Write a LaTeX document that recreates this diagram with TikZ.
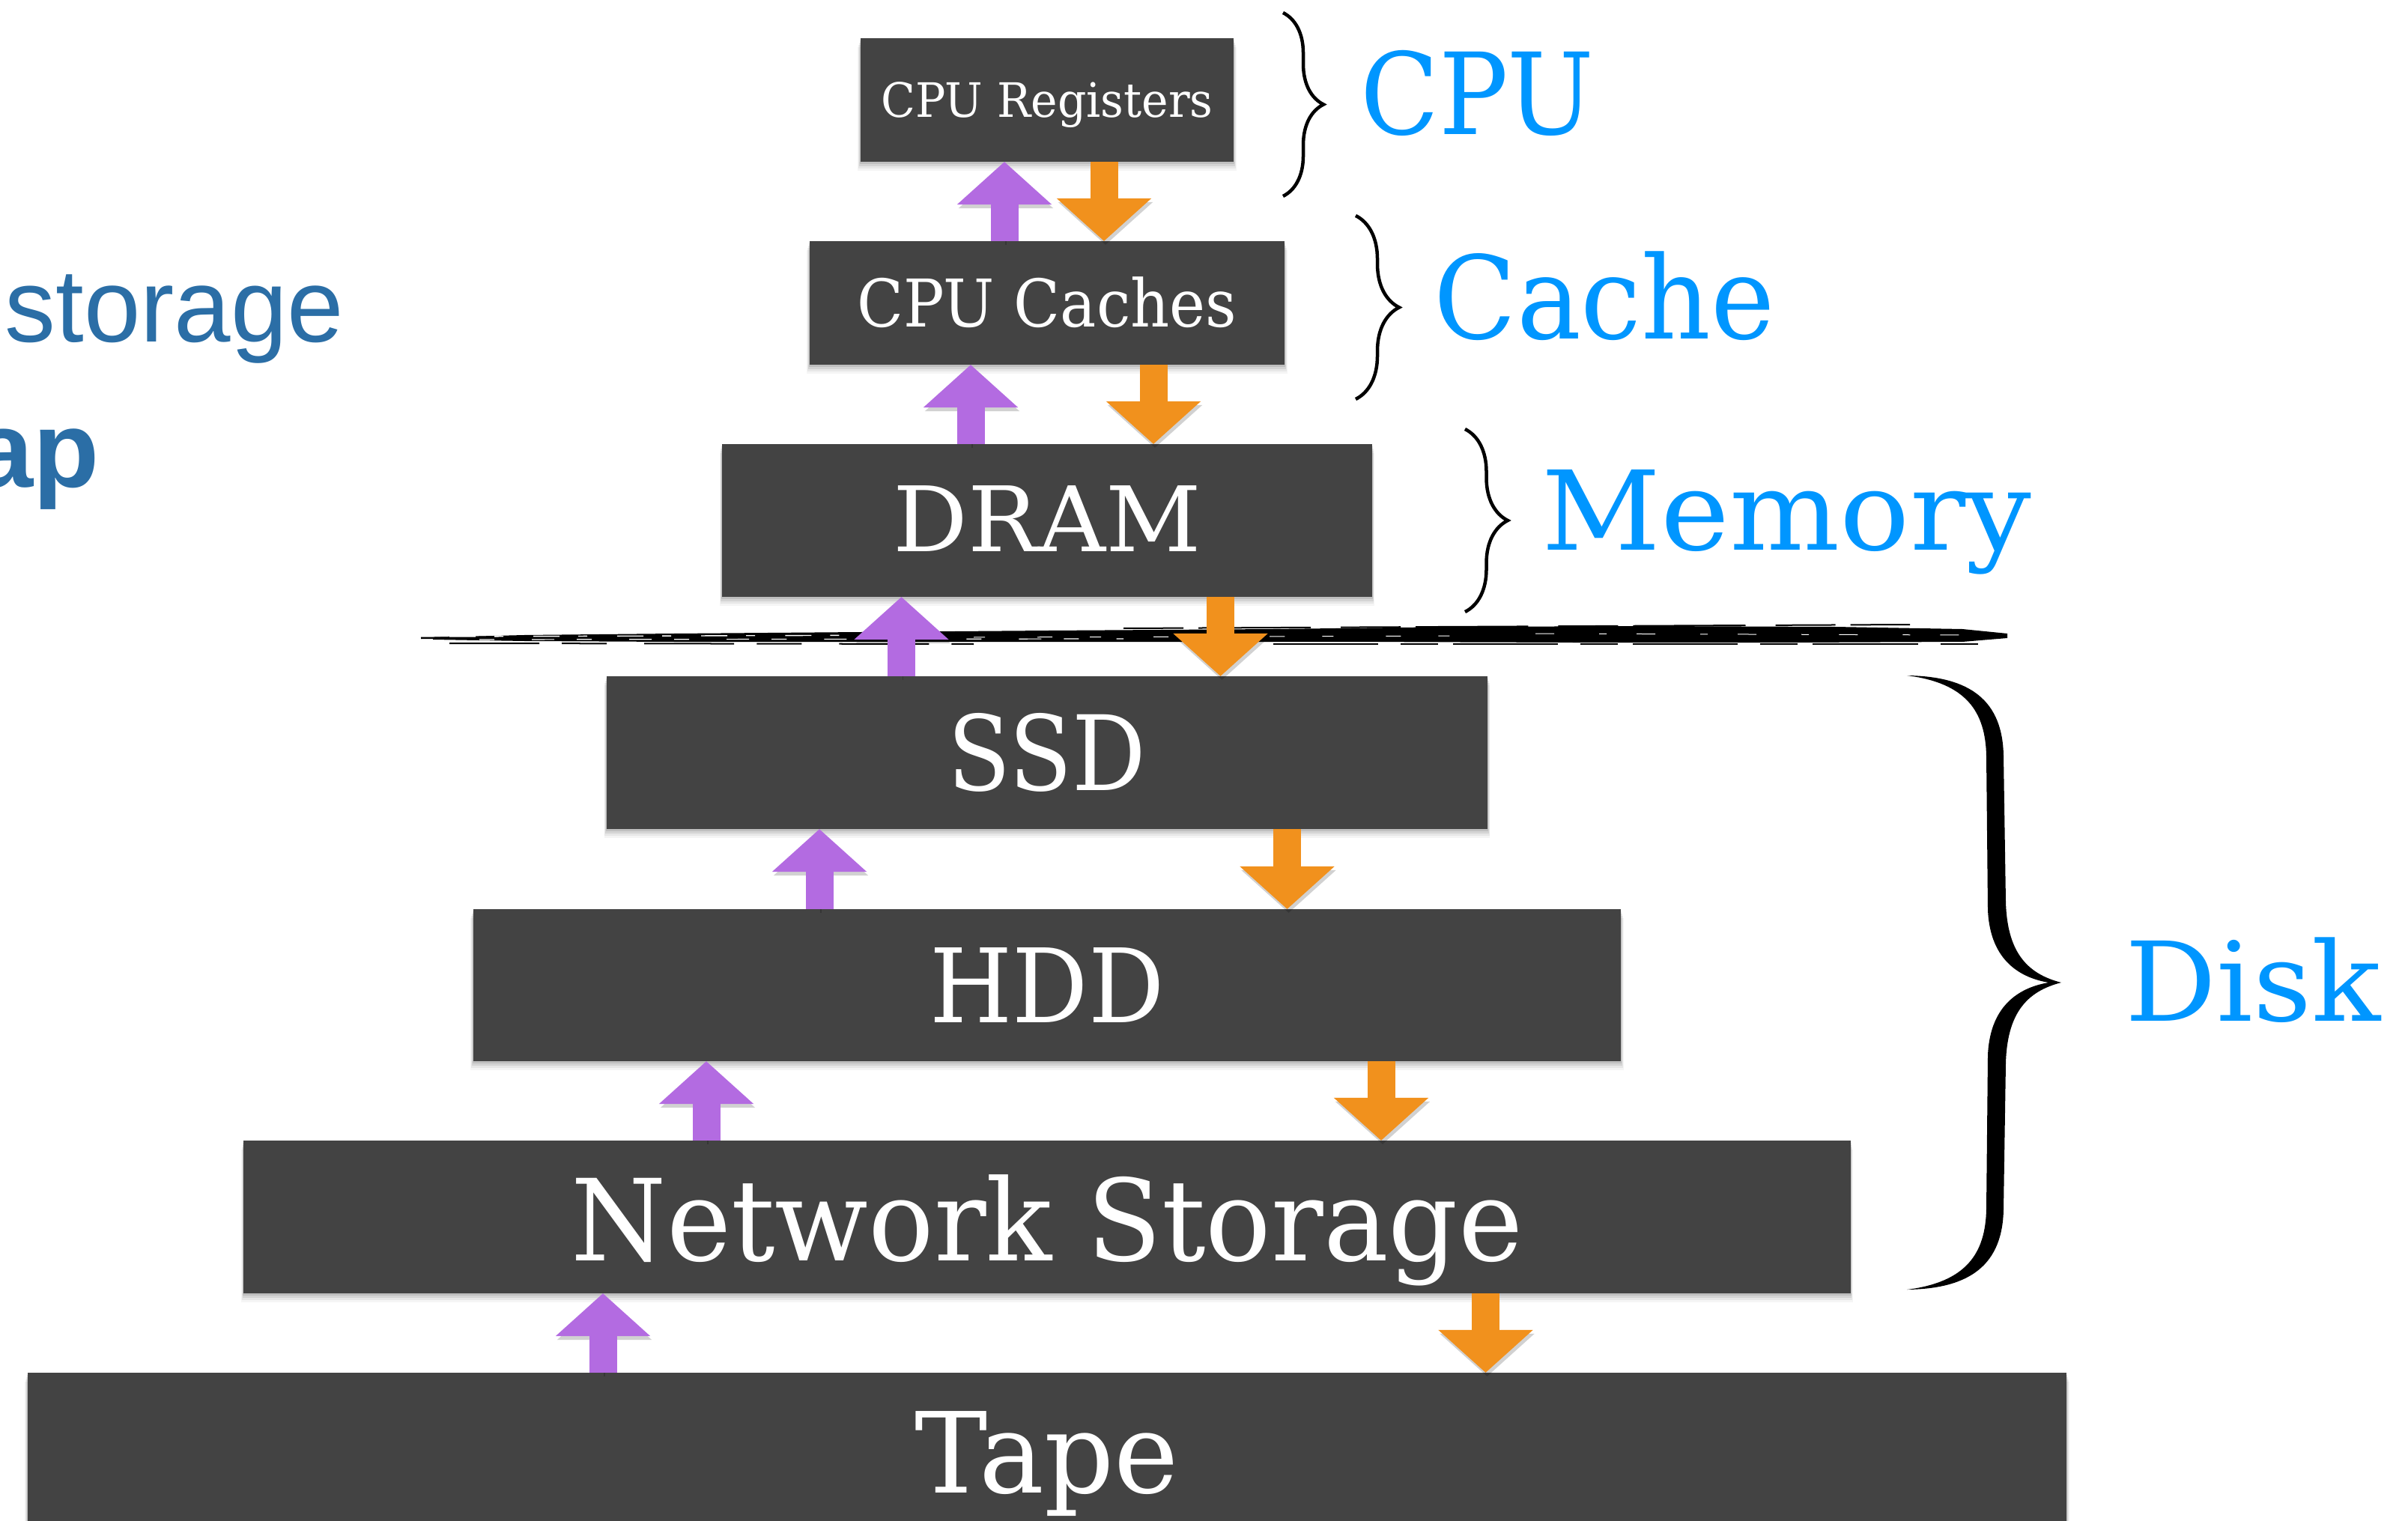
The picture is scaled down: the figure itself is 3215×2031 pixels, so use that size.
\documentclass[tikz,border=0pt]{standalone}
\usepackage{fontspec}
\usepackage{graphicx}
\setmainfont{DejaVu Serif}
\newfontfamily\helv{Liberation Sans}
\usetikzlibrary{arrows.meta,calc,decorations.pathreplacing}
\definecolor{boxgray}{HTML}{434343}
\definecolor{upcol}{HTML}{B36BE1}
\definecolor{downcol}{HTML}{F1911D}
\definecolor{lblblue}{HTML}{0096FF}
\definecolor{sideblue}{HTML}{2B6EA6}
\pgfdeclarelayer{bg}
\pgfsetlayers{bg,main}
\newcommand\fitw[3]{\resizebox{#1cm}{\height}{\fontsize{#2}{#2}\selectfont #3}}
\begin{document}
\begin{tikzpicture}[x=0.01cm, y=-0.01cm,
  box/.style={fill=boxgray, inner sep=0pt, outer sep=0pt},
  boxtxt/.style={text=white, inner sep=0pt, anchor=base},
  lbl/.style={text=lblblue, inner sep=0pt, anchor=base west},
  arrshadow/.style={preaction={draw=black, opacity=0.18, transform canvas={xshift=0.02cm, yshift=-0.05cm}}},
  uparr/.style={arrshadow, draw=upcol, line width=0.37cm, -{Triangle[width=1.23cm,length=0.57cm]}},
  downarr/.style={arrshadow, draw=downcol, line width=0.37cm, -{Triangle[width=1.23cm,length=0.57cm]}},
  smallbrace/.style={draw=black, line width=0.045cm, decorate}
]
\useasboundingbox (0,0) rectangle (3215,2031);
\clip (0,0) rectangle (3215,2031);

% boxes
\node[box, minimum width=4.98cm, minimum height=1.65cm] (reg) at (1398,133.5) {};
\node[box, minimum width=6.34cm, minimum height=1.65cm] (cache) at (1398,404.5) {};
\node[box, minimum width=8.67cm, minimum height=2.04cm] (dram) at (1398,695) {};
\node[box, minimum width=11.75cm, minimum height=2.04cm] (ssd) at (1398,1005) {};
\node[box, minimum width=15.31cm, minimum height=2.03cm] (hdd) at (1398,1315.5) {};
\node[box, minimum width=21.44cm, minimum height=2.04cm] (net) at (1398,1625) {};
\node[box, minimum width=27.21cm, minimum height=2.04cm] (tape) at (1398,1935) {};

% soft shadows under boxes
\begin{pgfonlayer}{bg}
\foreach \n in {reg,cache,dram,ssd,hdd,net,tape}{
  \foreach \d/\o in {3/0.10,6/0.08,9/0.06,12/0.04}{
    \fill[black, opacity=\o] ($(\n.north west)+(-\d*0.3,\d)$) rectangle ($(\n.south east)+(\d*0.3,\d)$);
  }
}
\end{pgfonlayer}

% box texts
\node[boxtxt] (tReg) at ($(reg.center)+(0,23)$) {\fitw{4.43}{18}{CPU Registers}};
\node[boxtxt] (tCache) at ($(cache.center)+(0,32)$) {\fitw{5.06}{25}{CPU Caches}};
\node[boxtxt] (tDram) at ($(dram.center)+(0,42)$) {\fitw{4.11}{34.3}{DRAM}};
\node[boxtxt] (tSsd) at ($(ssd.center)+(0,50)$) {\fitw{2.65}{39.5}{SSD}};
\node[boxtxt] (tHdd) at ($(hdd.center)+(0,49.5)$) {\fitw{3.13}{39}{HDD}};
\node[boxtxt] (tNet) at ($(net.center)+(0,58)$) {\fitw{12.70}{43}{Network Storage}};
\node[boxtxt] (tTape) at ($(tape.center)+(0,58)$) {\fitw{3.52}{42.5}{Tape}};

% separator brush stroke
\fill[black] (578,851) -- (700,848) -- (900,846) -- (1150,844) -- (1400,842) -- (1700,840)
  -- (1950,837) -- (2200,836) -- (2450,837) -- (2620,840) -- (2680,846)
  -- (2680,852) -- (2620,857) -- (2400,858) -- (2100,858) -- (1800,857) -- (1500,857)
  -- (1200,857) -- (900,857) -- (700,856) -- (578,854) -- cycle;
\draw[black, line width=0.025cm] (562,852) -- (780,849);
\draw[black, line width=0.02cm, dash pattern=on 1.2cm off 0.3cm on 0.6cm off 0.5cm] (600,859) -- (1300,860);
\draw[black, line width=0.02cm, dash pattern=on 0.8cm off 0.2cm on 1.5cm off 0.4cm] (1500,839) -- (2550,834);
\draw[black, line width=0.02cm, dash pattern=on 1.4cm off 0.3cm on 0.5cm off 0.2cm] (1700,860) -- (2650,860);
\draw[white, line width=0.014cm, dash pattern=on 0.35cm off 0.25cm on 0.12cm off 0.4cm] (600,850) -- (1250,848);
\draw[white, line width=0.012cm, dash pattern=on 0.2cm off 0.5cm on 0.3cm off 0.3cm] (640,854) -- (1500,853);
\draw[white, line width=0.01cm, dash pattern=on 0.25cm off 0.6cm on 0.1cm off 0.4cm] (2050,846) -- (2620,848);
\draw[white, line width=0.01cm, dash pattern=on 0.15cm off 0.7cm on 0.2cm off 0.5cm] (1300,851) -- (2000,849);

% arrow x positions
\coordinate (p1) at (1341,0);   \coordinate (o1) at (1474,0);
\coordinate (p2) at (1296,0);   \coordinate (o2) at (1540,0);
\coordinate (p3) at (1203.5,0); \coordinate (o3) at (1629.5,0);
\coordinate (p4) at (1094,0);   \coordinate (o4) at (1718.5,0);
\coordinate (p5) at (943,0);    \coordinate (o5) at (1844,0);
\coordinate (p6) at (805,0);    \coordinate (o6) at (1983.5,0);

% arrows
\draw[uparr] (cache.north -| p1) -- (reg.south -| p1);
\draw[downarr] (reg.south -| o1) -- (cache.north -| o1);
\draw[uparr] (dram.north -| p2) -- (cache.south -| p2);
\draw[downarr] (cache.south -| o2) -- (dram.north -| o2);
\draw[uparr] (ssd.north -| p3) -- (dram.south -| p3);
\draw[downarr] (dram.south -| o3) -- (ssd.north -| o3);
\draw[uparr] (hdd.north -| p4) -- (ssd.south -| p4);
\draw[downarr] (ssd.south -| o4) -- (hdd.north -| o4);
\draw[uparr] (net.north -| p5) -- (hdd.south -| p5);
\draw[downarr] (hdd.south -| o5) -- (net.north -| o5);
\draw[uparr] (tape.north -| p6) -- (net.south -| p6);
\draw[downarr] (net.south -| o6) -- (tape.north -| o6);

% small braces
\draw[smallbrace, decoration={brace, amplitude=0.54cm}] (1713,17) -- (1713,262);
\draw[smallbrace, decoration={brace, amplitude=0.58cm}] (1810,288) -- (1810,533);
\draw[smallbrace, decoration={brace, amplitude=0.57cm}] (1956,573) -- (1956,817);

% disk brace (tapered)
\fill[black] (2546,902) .. controls (2630,903) and (2674,935) .. (2675,1010)
  -- (2678,1205) .. controls (2680,1270) and (2705,1300) .. (2752,1312)
  .. controls (2705,1324) and (2680,1354) .. (2678,1419)
  -- (2675,1614) .. controls (2674,1689) and (2630,1721) .. (2546,1722)
  .. controls (2625,1712) and (2651,1674) .. (2652,1614)
  -- (2654,1409) .. controls (2657,1339) and (2700,1318) .. (2735,1312)
  .. controls (2700,1306) and (2657,1285) .. (2654,1215)
  -- (2652,1010) .. controls (2651,950) and (2625,912) .. (2546,902) -- cycle;

% labels
\node[lbl] (lCpu) at (1816,180) {\fitw{3.11}{43}{CPU}};
\node[lbl] (lCache) at (1914,453) {\fitw{4.55}{43.7}{Cache}};
\node[lbl] (lMem) at (2058,734) {\fitw{6.53}{41.8}{Memory}};
\node[lbl] (lDisk) at (2837,1363) {\fitw{3.41}{41.8}{Disk}};

% cut-off side text
\node[anchor=base west, inner sep=0pt, text=sideblue] (side1) at (6,457) {\resizebox{4.52cm}{\height}{\helv\fontsize{39.5}{40}\selectfont storage}};
\node[anchor=base east, inner sep=0pt, text=sideblue] (side2) at (133,651) {\helv\bfseries\fontsize{41}{41}\selectfont ap};
\end{tikzpicture}
\end{document}
